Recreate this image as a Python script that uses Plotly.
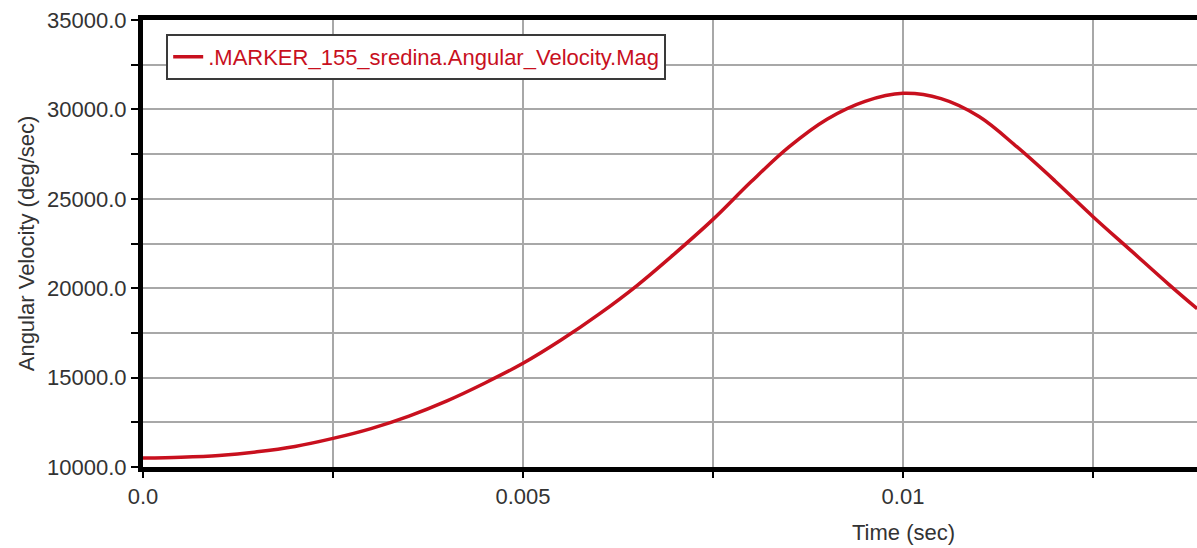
import plotly.graph_objects as go

time_s = [0.0, 0.0005, 0.001, 0.0015, 0.002, 0.0025, 0.003, 0.0035, 0.004, 0.0045,
          0.005, 0.0055, 0.006, 0.0065, 0.007, 0.0075, 0.008, 0.0085, 0.009, 0.0095,
          0.01, 0.0105, 0.011, 0.0115, 0.012, 0.0125, 0.013, 0.0135, 0.01387]
ang_vel = [10500, 10550, 10650, 10850, 11150, 11600, 12150, 12850, 13700, 14700,
           15800, 17100, 18550, 20150, 21950, 23850, 25950, 27900, 29450, 30450,
           30900, 30600, 29600, 27900, 26000, 24000, 22100, 20200, 18850]

series_name = ".MARKER_155_sredina.Angular_Velocity.Mag"
y_tickvals = [10000, 12500, 15000, 17500, 20000, 22500, 25000, 27500, 30000, 32500, 35000]
y_ticktext = ["10000.0", "", "15000.0", "", "20000.0", "", "25000.0", "", "30000.0", "", "35000.0"]
x_tickvals = [0.0, 0.0025, 0.005, 0.0075, 0.01, 0.0125]
x_ticktext = ["0.0", "", "0.005", "", "0.01", ""]

FONT = "Liberation Sans, Arial, sans-serif"
FS = 22

fig = go.Figure()
fig.add_trace(go.Scatter(
    x=time_s, y=ang_vel, mode="lines", name=series_name,
    line=dict(color="#c8101e", width=3.5, shape="spline", smoothing=1.0),
))

fig.update_layout(
    width=1197, height=548,
    margin=dict(l=143, r=0, t=20, b=81),
    paper_bgcolor="white", plot_bgcolor="white",
    font=dict(family=FONT, size=FS, color="#333333"),
    showlegend=True,
    legend=dict(
        x=0.022, y=0.969, xanchor="left", yanchor="top",
        bgcolor="white", bordercolor="#3a3a3a", borderwidth=2,
        font=dict(family=FONT, size=FS, color="#c8101e"),
        itemwidth=30, tracegroupgap=0,
    ),
    xaxis=dict(
        range=[0, 0.013868], tickvals=x_tickvals, ticktext=x_ticktext,
        showgrid=True, gridcolor="#a8a8a8", gridwidth=1.5,
        showline=True, linecolor="black", linewidth=5, mirror=True,
        ticks="outside", ticklen=6, tickcolor="black", tickwidth=2,
        zeroline=False, tickfont=dict(size=FS, color="#333333"),
    ),
    yaxis=dict(
        range=[10000, 35000], tickvals=y_tickvals, ticktext=y_ticktext,
        showgrid=True, gridcolor="#a8a8a8", gridwidth=1.5,
        showline=True, linecolor="black", linewidth=5,
        ticks="outside", ticklen=7, tickcolor="black", tickwidth=2,
        zeroline=False, tickfont=dict(size=FS, color="#333333"),
        title=dict(text="Angular Velocity (deg/sec)", font=dict(size=FS, color="#333333"), standoff=8),
    ),
)

fig.add_annotation(
    text="Time (sec)", xref="x", yref="paper", x=0.01, y=0, yshift=-65,
    xanchor="center", yanchor="middle", showarrow=False,
    font=dict(family=FONT, size=FS, color="#333333"),
)

fig.write_html("out.html")
